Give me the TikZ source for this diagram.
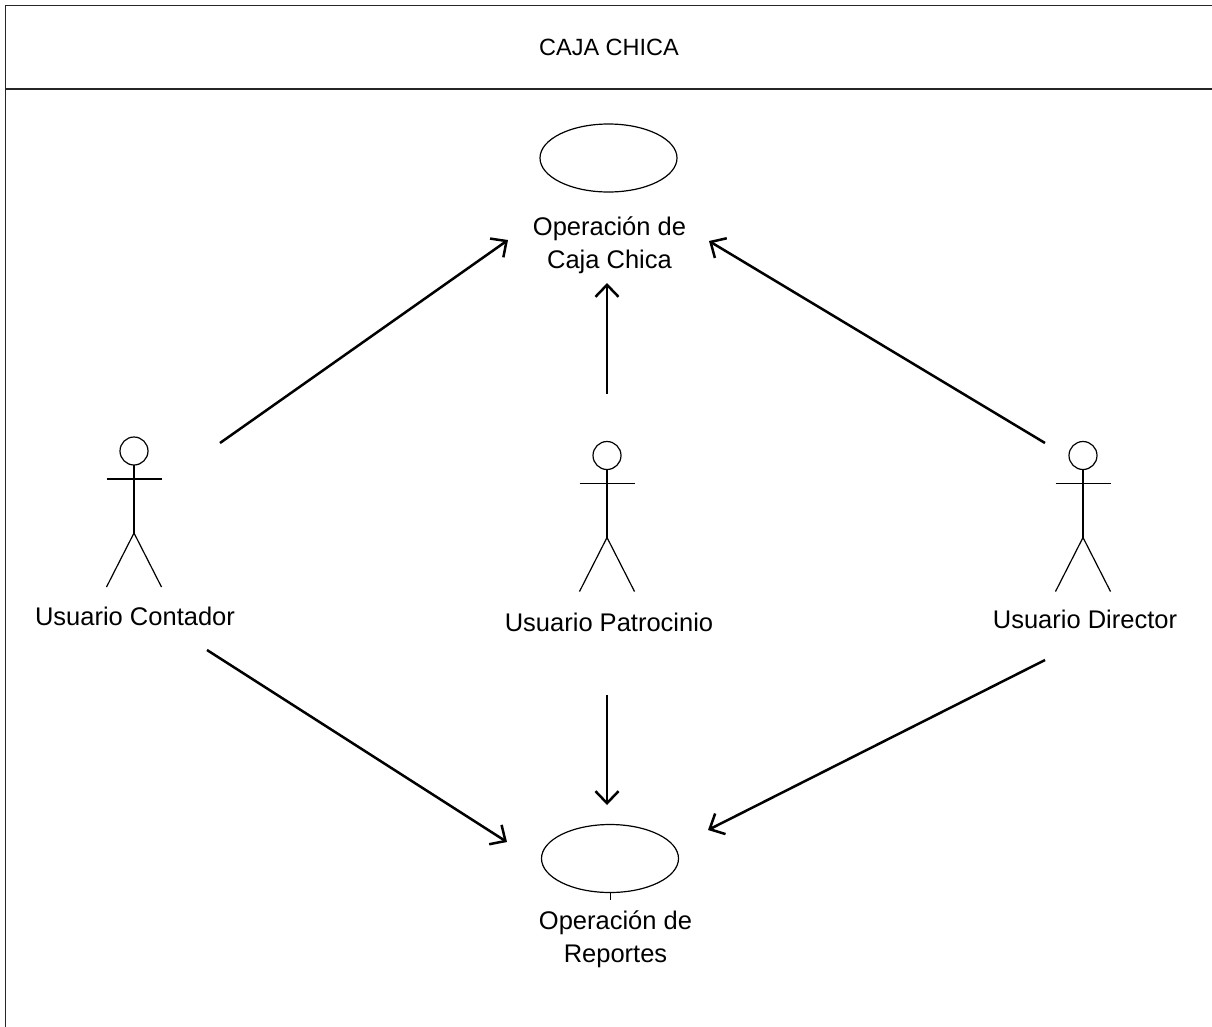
\documentclass[tikz,border=0pt]{standalone}
\usepackage{fontspec}
\setmainfont{Liberation Sans}
\usetikzlibrary{shapes.geometric,arrows.meta}
\tikzset{
  usecase/.style={draw, ellipse, line width=1.2pt, minimum width=137pt, minimum height=68pt, inner sep=0pt},
  lbl/.style={align=center, font=\fontsize{25.5}{33}\selectfont, inner sep=0pt},
  ttl/.style={font=\fontsize{23.5}{28}\selectfont, inner sep=0pt},
  assoc/.style={line width=2.5pt, -{Straight Barb[length=12pt,width=23pt,line width=2.5pt]}},
  frame/.style={draw=black!85, line width=1.8pt},
  pics/actor/.style={code={
    \draw[line width=1.2pt] (0,0) circle (14);
    \draw[line width=1.2pt] (-27.5,28) -- (27.5,28);
    \draw[line width=1.2pt] (0,14) -- (0,82);
    \draw[line width=1.2pt] (-27.5,136) -- (0,82) -- (27.5,136);
  }}
}
\begin{document}
\begin{tikzpicture}[x=1pt,y=-1pt]
\useasboundingbox (0,0) rectangle (1212,1026);
\fill[white] (0,0) rectangle (1212,1026);
% frame
\draw[frame] (5.5,1040) -- (5.5,5.5) -- (1225,5.5);
\draw[frame] (5.5,89) -- (1225,89);
\node[ttl] (title) at (609,47) {CAJA CHICA};
% use cases
\node[usecase] (uc1) at (608.5,158) {};
\node[lbl] (uc1l) at (609.5,245) {Operación de\\Caja Chica};
\node[usecase] (uc2) at (610,858.5) {};
\node[lbl] (uc2l) at (615.5,939) {Operación de\\Reportes};
\draw[line width=1pt] (uc2.south) -- ++(0,7);
% actors
\pic at (134,451) {actor};
\pic at (607,455.5) {actor};
\pic at (1083,455.5) {actor};
\node[lbl] (a1) at (135,616) {Usuario Contador};
\node[lbl] (a2) at (609,622) {Usuario Patrocinio};
\node[lbl] (a3) at (1085,619) {Usuario Director};
% connector end points
\coordinate (c1s) at (220,443);
\coordinate (c1t) at (508,240);
\coordinate (p1s) at (607,394);
\coordinate (p1t) at (607,283);
\coordinate (d1s) at (1045,443);
\coordinate (d1t) at (709,241);
\coordinate (c2s) at (207,650);
\coordinate (c2t) at (507,842);
\coordinate (p2s) at (607,695);
\coordinate (p2t) at (607,805);
\coordinate (d2s) at (1045,660);
\coordinate (d2t) at (708,830);
\draw[assoc] (c1s) -- (c1t);
\draw[assoc] (p1s) -- (p1t);
\draw[assoc] (d1s) -- (d1t);
\draw[assoc] (c2s) -- (c2t);
\draw[assoc] (p2s) -- (p2t);
\draw[assoc] (d2s) -- (d2t);
\end{tikzpicture}
\end{document}
